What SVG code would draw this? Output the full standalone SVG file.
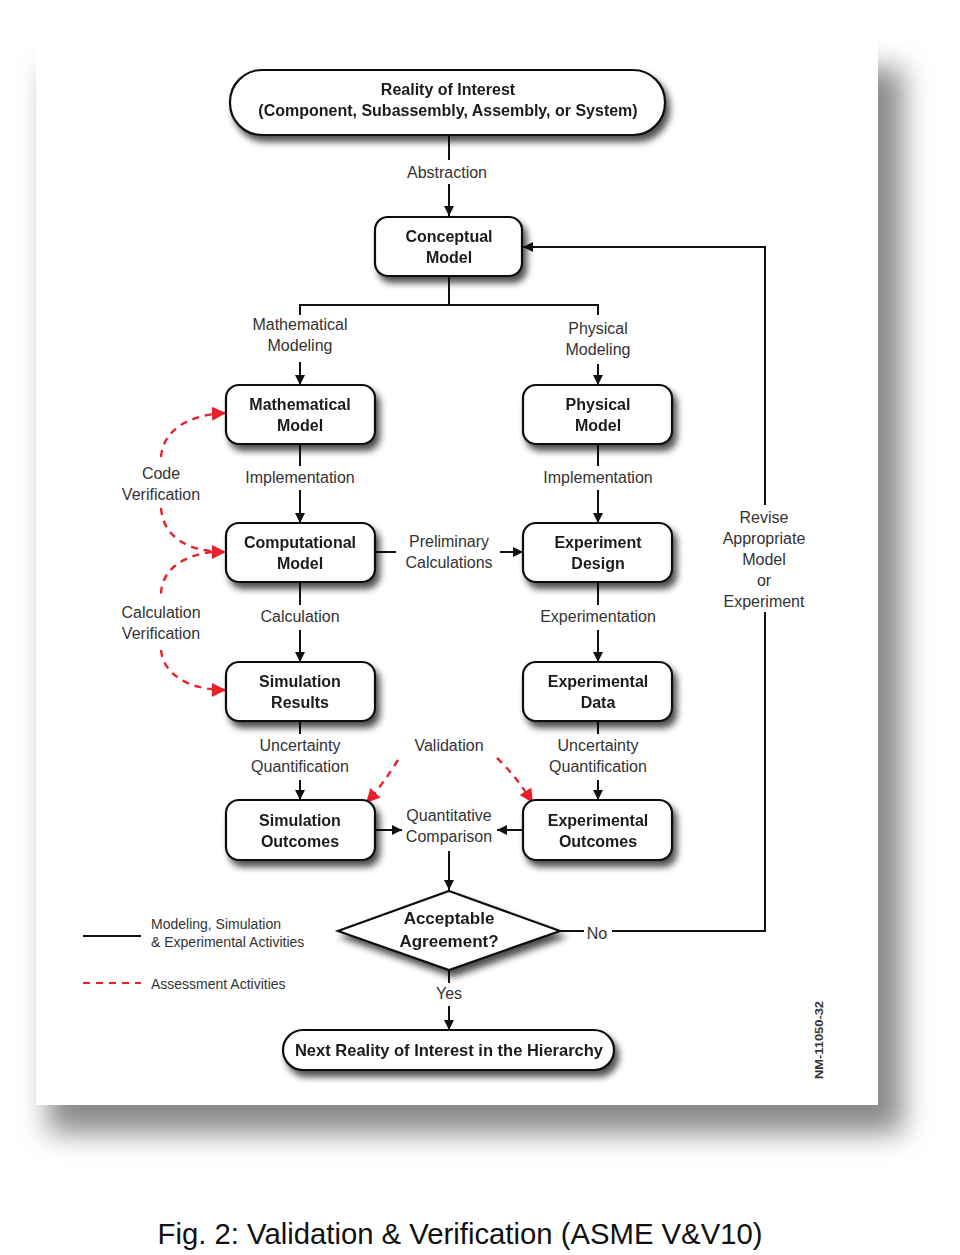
<svg xmlns="http://www.w3.org/2000/svg" width="960" height="1255" viewBox="0 0 960 1255">
<defs>
<filter id="cardShadow" x="-10%" y="-10%" width="120%" height="120%">
<feGaussianBlur stdDeviation="14"/>
</filter>
<filter id="sh" x="-20%" y="-30%" width="150%" height="170%">
<feGaussianBlur in="SourceAlpha" stdDeviation="3.5"/>
<feOffset dx="4" dy="6" result="b"/>
<feComponentTransfer in="b" result="c"><feFuncA type="linear" slope="0.7"/></feComponentTransfer>
<feMerge><feMergeNode in="c"/><feMergeNode in="SourceGraphic"/></feMerge>
</filter>
<marker id="ah" viewBox="0 0 10 10" refX="10" refY="5" markerWidth="10" markerHeight="10" markerUnits="userSpaceOnUse" orient="auto">
<path d="M0,0 L10,5 L0,10 z" fill="#111"/>
</marker>
<marker id="rh" viewBox="0 0 12 12" refX="12" refY="6" markerWidth="14" markerHeight="14" markerUnits="userSpaceOnUse" orient="auto">
<path d="M0,0 L12,6 L0,12 z" fill="#e8202a"/>
</marker>
<style>
.box{fill:#fff;stroke:#111;stroke-width:2.2}
.bt{font-family:"Liberation Sans",Arial,sans-serif;font-weight:bold;font-size:16px;fill:#1a1a1a;text-anchor:middle}
.lt{font-family:"Liberation Sans",Arial,sans-serif;font-size:16px;fill:#333;text-anchor:middle}
.leg{font-family:"Liberation Sans",Arial,sans-serif;font-size:14px;fill:#333}
.ln{fill:none;stroke:#111;stroke-width:2}
.rd{fill:none;stroke:#e8202a;stroke-width:2.4;stroke-dasharray:7,6}
</style>
</defs>
<rect width="960" height="1255" fill="#fff"/>
<g id="card">
<rect x="48" y="68" width="855" height="1065" fill="#8a8a8a" filter="url(#cardShadow)"/>
<rect x="36" y="35" width="842" height="1070" fill="#fff"/>
</g>

<g id="connectors">
<path class="ln" d="M449,136 V160"/>
<path class="ln" d="M449,184 V216" marker-end="url(#ah)"/>
<path class="ln" d="M449,277 V305 M300,315 V305 H598 V315"/>
<path class="ln" d="M300,362 V385" marker-end="url(#ah)"/>
<path class="ln" d="M598,364 V385" marker-end="url(#ah)"/>
<path class="ln" d="M300,445 V466 M598,445 V466"/>
<path class="ln" d="M300,490 V523" marker-end="url(#ah)"/>
<path class="ln" d="M598,490 V523" marker-end="url(#ah)"/>
<path class="ln" d="M376,552 H396"/>
<path class="ln" d="M500,552 H523" marker-end="url(#ah)"/>
<path class="ln" d="M300,583 V605 M598,583 V605"/>
<path class="ln" d="M300,630 V662" marker-end="url(#ah)"/>
<path class="ln" d="M598,630 V662" marker-end="url(#ah)"/>
<path class="ln" d="M300,722 V734 M598,722 V734"/>
<path class="ln" d="M300,780 V800" marker-end="url(#ah)"/>
<path class="ln" d="M598,780 V800" marker-end="url(#ah)"/>
<path class="ln" d="M376,830 H402" marker-end="url(#ah)"/>
<path class="ln" d="M523,830 H497" marker-end="url(#ah)"/>
<path class="ln" d="M449,851 V890" marker-end="url(#ah)"/>
<path class="ln" d="M560,931 H584 M612,931 H765 V612"/>
<path class="ln" d="M765,505 V247 H523" marker-end="url(#ah)"/>
<path class="ln" d="M449,970 V983"/>
<path class="ln" d="M449,1006 V1030" marker-end="url(#ah)"/>
<path class="rd" d="M161,457 C163,432 185,415 226,413" marker-end="url(#rh)"/>
<path class="rd" d="M161,508 C163,535 185,552 226,552" marker-end="url(#rh)"/>
<path class="rd" d="M212,552 C180,556 160,572 161,597"/>
<path class="rd" d="M161,650 C163,672 185,690 226,690" marker-end="url(#rh)"/>
<path class="rd" d="M398,760 C388,776 378,790 366,803" marker-end="url(#rh)"/>
<path class="rd" d="M497,758 C510,770 522,786 533,803" marker-end="url(#rh)"/>
</g>

<g id="labels">
<text class="lt" x="447" y="178">Abstraction</text>
<text class="lt" x="300" y="330">Mathematical</text>
<text class="lt" x="300" y="351">Modeling</text>
<text class="lt" x="598" y="334">Physical</text>
<text class="lt" x="598" y="355">Modeling</text>
<text class="lt" x="300" y="483">Implementation</text>
<text class="lt" x="598" y="483">Implementation</text>
<text class="lt" x="161" y="479">Code</text>
<text class="lt" x="161" y="500">Verification</text>
<text class="lt" x="449" y="547">Preliminary</text>
<text class="lt" x="449" y="568">Calculations</text>
<text class="lt" x="300" y="622">Calculation</text>
<text class="lt" x="598" y="622">Experimentation</text>
<text class="lt" x="161" y="618">Calculation</text>
<text class="lt" x="161" y="639">Verification</text>
<text class="lt" x="300" y="751">Uncertainty</text>
<text class="lt" x="300" y="772">Quantification</text>
<text class="lt" x="449" y="751">Validation</text>
<text class="lt" x="598" y="751">Uncertainty</text>
<text class="lt" x="598" y="772">Quantification</text>
<text class="lt" x="449" y="821">Quantitative</text>
<text class="lt" x="449" y="842">Comparison</text>
<text class="lt" x="597" y="939">No</text>
<text class="lt" x="449" y="999">Yes</text>
<text class="lt" x="764" y="523">Revise</text>
<text class="lt" x="764" y="544">Appropriate</text>
<text class="lt" x="764" y="565">Model</text>
<text class="lt" x="764" y="586">or</text>
<text class="lt" x="764" y="607">Experiment</text>
</g>

<g id="reality" filter="url(#sh)">
<rect class="box" x="230" y="70" width="435" height="65" rx="32"/>
<text class="bt" x="448" y="95">Reality of Interest</text>
<text class="bt" x="448" y="116">(Component, Subassembly, Assembly, or System)</text>
</g>
<g id="conceptual" filter="url(#sh)">
<rect class="box" x="375" y="217" width="147" height="59" rx="13"/>
<text class="bt" x="449" y="242">Conceptual</text>
<text class="bt" x="449" y="263">Model</text>
</g>
<g id="mathmodel" filter="url(#sh)">
<rect class="box" x="226" y="385" width="149" height="59" rx="13"/>
<text class="bt" x="300" y="410">Mathematical</text>
<text class="bt" x="300" y="431">Model</text>
</g>
<g id="physmodel" filter="url(#sh)">
<rect class="box" x="523" y="385" width="149" height="59" rx="13"/>
<text class="bt" x="598" y="410">Physical</text>
<text class="bt" x="598" y="431">Model</text>
</g>
<g id="compmodel" filter="url(#sh)">
<rect class="box" x="226" y="523" width="149" height="59" rx="13"/>
<text class="bt" x="300" y="548">Computational</text>
<text class="bt" x="300" y="569">Model</text>
</g>
<g id="expdesign" filter="url(#sh)">
<rect class="box" x="523" y="523" width="149" height="59" rx="13"/>
<text class="bt" x="598" y="548">Experiment</text>
<text class="bt" x="598" y="569">Design</text>
</g>
<g id="simresults" filter="url(#sh)">
<rect class="box" x="226" y="662" width="149" height="59" rx="13"/>
<text class="bt" x="300" y="687">Simulation</text>
<text class="bt" x="300" y="708">Results</text>
</g>
<g id="expdata" filter="url(#sh)">
<rect class="box" x="523" y="662" width="149" height="59" rx="13"/>
<text class="bt" x="598" y="687">Experimental</text>
<text class="bt" x="598" y="708">Data</text>
</g>
<g id="simoutcomes" filter="url(#sh)">
<rect class="box" x="226" y="800" width="149" height="60" rx="13"/>
<text class="bt" x="300" y="826">Simulation</text>
<text class="bt" x="300" y="847">Outcomes</text>
</g>
<g id="expoutcomes" filter="url(#sh)">
<rect class="box" x="523" y="800" width="149" height="60" rx="13"/>
<text class="bt" x="598" y="826">Experimental</text>
<text class="bt" x="598" y="847">Outcomes</text>
</g>
<g id="decision" filter="url(#sh)">
<path class="box" d="M449,891 L560,931 L449,970 L338,931 Z"/>
<text class="bt" x="449" y="924" style="font-size:17px">Acceptable</text>
<text class="bt" x="449" y="947" style="font-size:17px">Agreement?</text>
</g>
<g id="nextreality" filter="url(#sh)">
<rect class="box" x="283" y="1030" width="331" height="40" rx="20"/>
<text class="bt" x="449" y="1056" style="font-size:16.5px">Next Reality of Interest in the Hierarchy</text>
</g>

<g id="legend">
<line x1="83" y1="936" x2="141" y2="936" stroke="#111" stroke-width="2"/>
<text class="leg" x="151" y="929">Modeling, Simulation</text>
<text class="leg" x="151" y="947">&amp; Experimental Activities</text>
<line x1="83" y1="983" x2="141" y2="983" stroke="#e8202a" stroke-width="2" stroke-dasharray="7,6"/>
<text class="leg" x="151" y="989">Assessment Activities</text>
</g>
<text x="0" y="0" transform="translate(823,1079) rotate(-90)" style="font-family:'Liberation Sans',Arial,sans-serif;font-size:11px;font-weight:bold;fill:#333" textLength="78" lengthAdjust="spacingAndGlyphs">NM-11050-32</text>
<text x="460" y="1244" text-anchor="middle" style="font-family:'Liberation Sans',Arial,sans-serif;font-size:30px;fill:#111" textLength="605" lengthAdjust="spacingAndGlyphs">Fig. 2: Validation &amp; Verification (ASME V&amp;V10)</text>
</svg>
